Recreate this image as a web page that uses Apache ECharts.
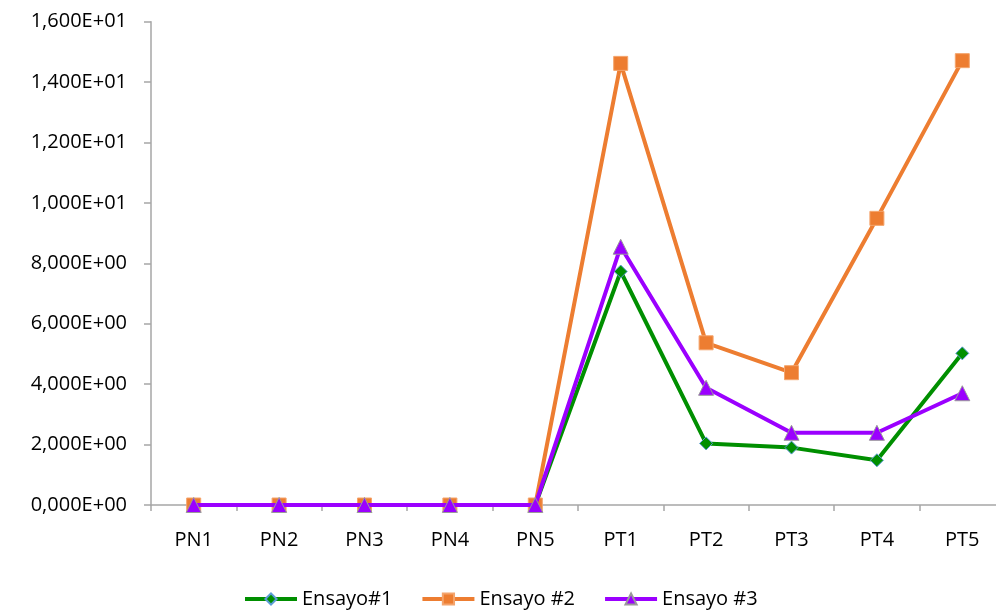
<!DOCTYPE html>
<html>
<head>
<meta charset="utf-8">
<script src="https://cdn.jsdelivr.net/npm/echarts@6/dist/echarts.min.js"></script>
<style>
  html, body { margin: 0; padding: 0; background: #fff; overflow: hidden; }
  #chart { width: 1005px; height: 614px; }
</style>
</head>
<body>
<div id="chart"></div>
<script>
// Categories and measured values for the three trials
const categories = ['PN1', 'PN2', 'PN3', 'PN4', 'PN5', 'PT1', 'PT2', 'PT3', 'PT4', 'PT5'];
const ensayo1 = [0, 0, 0, 0, 0, 7.73, 2.04, 1.90, 1.48, 5.02];
const ensayo2 = [0, 0, 0, 0, 0, 14.62, 5.37, 4.38, 9.49, 14.71];
const ensayo3 = [0, 0, 0, 0, 0, 8.55, 3.88, 2.39, 2.39, 3.70];
const seriesNames = ['Ensayo#1', 'Ensayo #2', 'Ensayo #3'];

const FONT = '"Open Sans", "Noto Sans", sans-serif';

// Scientific notation with comma decimal separator, e.g. 1,600E+01
function sciLabel(v) {
  if (v === 0) return '0,000E+00';
  let exp = Math.floor(Math.log10(Math.abs(v)));
  let m = (v / Math.pow(10, exp)).toFixed(3);
  if (parseFloat(m) >= 10) { exp += 1; m = (v / Math.pow(10, exp)).toFixed(3); }
  const sign = exp < 0 ? '-' : '+';
  const e = String(Math.abs(exp)).padStart(2, '0');
  return m.replace('.', ',') + 'E' + sign + e;
}

const chart = echarts.init(document.getElementById('chart'), null, { renderer: 'canvas' });

chart.setOption({
  animation: false,
  backgroundColor: '#ffffff',
  grid: { left: 151, top: 21.7, right: 0, height: 483.3, containLabel: false },
  legend: {
    bottom: 0,
    left: 238,
    itemWidth: 52,
    itemHeight: 14,
    itemGap: 28,
    lineStyle: { width: 4 },
    textStyle: { fontFamily: FONT, fontSize: 20, color: '#000' },
    data: seriesNames
  },
  xAxis: {
    type: 'category',
    data: categories,
    boundaryGap: true,
    axisLine: { lineStyle: { color: '#a6a6a6', width: 1.5 } },
    axisTick: { show: true, length: 6, alignWithLabel: false, lineStyle: { color: '#a6a6a6', width: 1.5 } },
    axisLabel: { fontFamily: FONT, fontSize: 20, color: '#000', margin: 25 },
    splitLine: { show: false }
  },
  yAxis: {
    type: 'value',
    min: 0,
    max: 16,
    interval: 2,
    axisLine: { show: true, lineStyle: { color: '#a6a6a6', width: 1.5 } },
    axisTick: { show: true, length: 7, lineStyle: { color: '#a6a6a6', width: 1.5 } },
    axisLabel: { fontFamily: FONT, fontSize: 20, color: '#000', margin: 24, formatter: sciLabel },
    splitLine: { show: false }
  },
  series: [
    {
      name: seriesNames[0],
      type: 'line',
      data: ensayo1,
      symbol: 'diamond',
      symbolSize: 13,
      lineStyle: { color: '#008f00', width: 4 },
      itemStyle: { color: '#008f00', borderColor: '#5b9bd5', borderWidth: 1 },
      z: 2
    },
    {
      name: seriesNames[1],
      type: 'line',
      data: ensayo2,
      symbol: 'rect',
      symbolSize: 14,
      lineStyle: { color: '#ed7d31', width: 4 },
      itemStyle: { color: '#ed7d31', borderColor: '#f4a46c', borderWidth: 1 },
      z: 3
    },
    {
      name: seriesNames[2],
      type: 'line',
      data: ensayo3,
      symbol: 'triangle',
      symbolSize: 15,
      lineStyle: { color: '#9b00ff', width: 4 },
      itemStyle: { color: '#9b00ff', borderColor: '#9a9a9a', borderWidth: 1 },
      z: 4
    }
  ]
});
</script>
</body>
</html>
